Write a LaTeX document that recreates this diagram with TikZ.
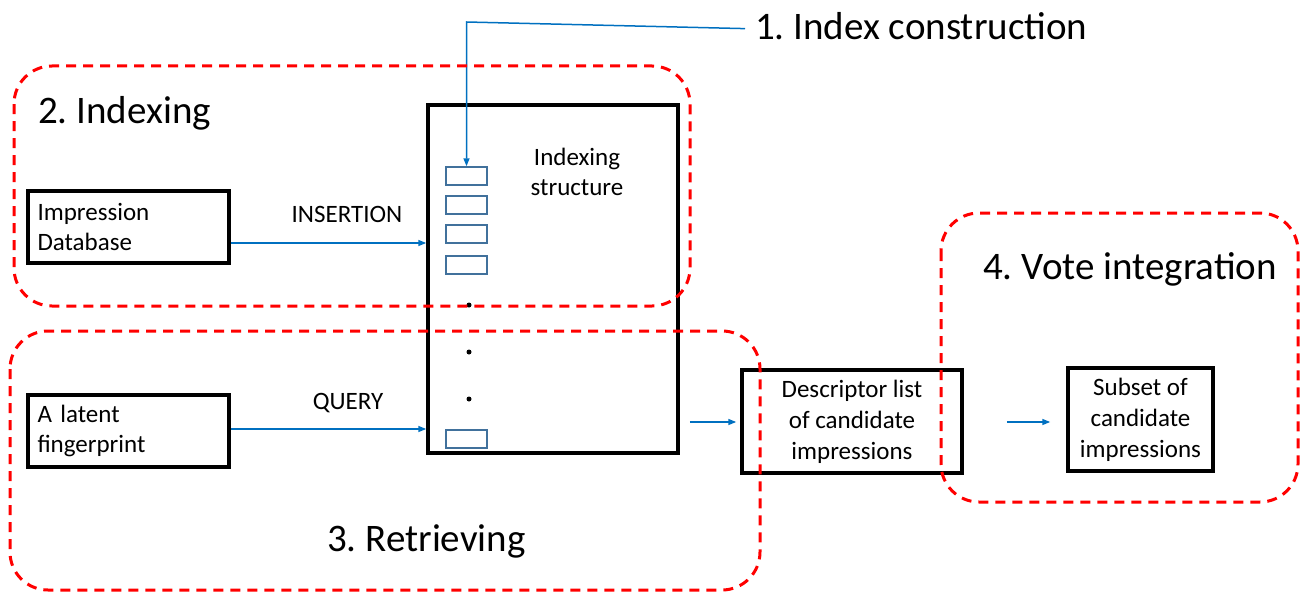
\documentclass[tikz,border=0pt]{standalone}
\usepackage{fontspec}
\setmainfont{Carlito}
\usetikzlibrary{arrows.meta,calc}
\definecolor{flowblue}{HTML}{0070C0}
\definecolor{slotblue}{HTML}{41719C}
\definecolor{zonered}{HTML}{FF0000}
\frenchspacing
\begin{document}
\begin{tikzpicture}[x=1pt,y=-1pt,
  blockbox/.style={draw=black,line width=3.5pt,fill=white,minimum width=#1,minimum height=103pt,
    font=\fontsize{25}{31}\selectfont,align=center,inner sep=0pt},
  srcbox/.style={draw=black,line width=3.5pt,fill=white,minimum width=201pt,minimum height=72pt,
    font=\fontsize{25}{30}\selectfont,text width=182pt,align=left,inner xsep=9.5pt,inner ysep=0pt},
  slot/.style={draw=slotblue,line width=1.5pt,fill=white,minimum width=41pt,minimum height=18pt,inner sep=0pt},
  dotmark/.style={circle,fill=black,inner sep=0pt,minimum size=5pt},
  flow/.style={draw=flowblue,line width=1.5pt,-{Triangle[length=8pt,width=6pt]}},
  zone/.style={draw=zonered,line width=3pt,dash pattern=on 10pt off 7pt,rounded corners=38pt},
  biglabel/.style={font=\fontsize{39}{47}\selectfont,inner sep=0pt},
  smalllabel/.style={font=\fontsize{25}{30}\selectfont,inner sep=0pt,align=center}]
\useasboundingbox (0,0) rectangle (1309,594);

% main indexing structure
\node[draw=black,line width=3.5pt,fill=white,minimum width=250pt,minimum height=348pt,inner sep=0pt]
  (idx) at (553,279) {};
\node[smalllabel] (idxlabel) at (577,172) {Indexing\\structure};

% slots of the structure
\node[slot] (b1) at (466.5,176) {};
\node[slot] (b2) at (466.5,205) {};
\node[slot] (b3) at (466.5,234) {};
\node[slot] (b4) at (466.5,265) {};
\node[slot] (b5) at (466.5,439) {};
\node[dotmark] (d1) at (469,305) {};
\node[dotmark] (d2) at (469,352) {};
\node[dotmark] (d3) at (469,399) {};

% inputs
\node[srcbox] (imp) at (128.5,227) {Impression\\Database};
\node[srcbox] (lat) at (128.5,431) {A latent\\fingerprint};
\node[smalllabel] (ins) at (347,214) {INSERTION};
\node[smalllabel] (qry) at (348,403) {QUERY};

% outputs
\node[blockbox=220pt] (desc) at (852,421.5) {Descriptor list\\of candidate\\impressions};
\node[blockbox=145pt] (sub) at (1140.5,419.5) {Subset of\\candidate\\impressions};

% step labels
\node[biglabel,anchor=base west] (s1) at (755,40) {1. Index construction};
\node[biglabel,anchor=base west] (s2) at (38,123) {2. Indexing};
\node[biglabel,anchor=base west] (s3) at (327,551) {3. Retrieving};
\node[biglabel,anchor=base west] (s4) at (983,279) {4. Vote integration};

% connectors
\coordinate (bend) at (b1.north |- 0,22);
\draw[flow] ([xshift=-10pt,yshift=-2pt]s1.west) -- (bend) -- (b1.north);
\draw[flow] (imp.east |- 0,243) -- (idx.west |- 0,243);
\draw[flow] (lat.east |- 0,429) -- (idx.west |- 0,429);
\draw[flow,shorten <=10pt,shorten >=4pt] (idx.east |- 0,422) -- (desc.west |- 0,422);
\draw[flow,shorten <=43pt,shorten >=16pt] (desc.east |- 0,422) -- (sub.west |- 0,422);

% process zones
\draw[zone] (14,66) rectangle (690,306);
\draw[zone] (10,331) rectangle (760,590);
\draw[zone] (941,213) rectangle (1298,502);
\end{tikzpicture}
\end{document}
